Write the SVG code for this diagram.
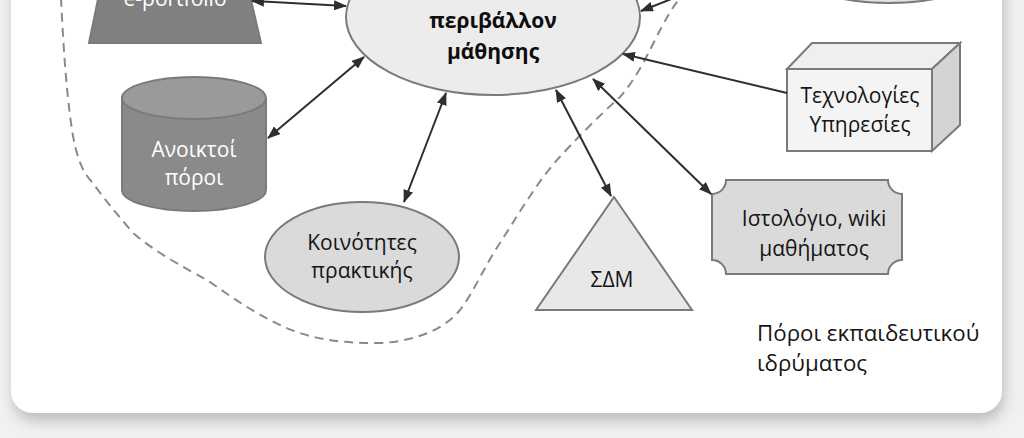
<svg xmlns="http://www.w3.org/2000/svg" width="1024" height="438" viewBox="0 0 1024 438">
<defs>
<filter id="sh" x="-5%" y="-5%" width="110%" height="115%">
<feDropShadow dx="2" dy="8" stdDeviation="7" flood-color="#000" flood-opacity="0.22"/>
</filter>
<marker id="ah" viewBox="0 0 13 10" refX="12" refY="5" markerWidth="13" markerHeight="10" markerUnits="userSpaceOnUse" orient="auto-start-reverse">
<path d="M0,0 L13,5 L0,10 z" fill="#2e2e2e"/>
</marker>
<style>
.nd{stroke:#7a7a7a;stroke-width:2}
.t{font-family:"Open Sans","DejaVu Sans",sans-serif;font-size:21px;fill:#151515;text-anchor:middle}
.w{fill:#ffffff}
.b{font-weight:bold;fill:#0d0d0d}
.c{stroke:#2e2e2e;stroke-width:2;fill:none}
.bd{fill:none;stroke:#8a8a8a;stroke-width:2;stroke-dasharray:9 6}
</style>
</defs>
<rect x="0" y="0" width="1024" height="438" fill="#f1f1f1"/>
<rect x="11" y="-40" width="991" height="453" rx="22" fill="#ffffff" filter="url(#sh)"/>
<path id="boundary" class="bd" d="M61,-2 C63,40 66,90 72,130 C76,155 82,172 92,182 C105,200 118,215 133,233 C155,252 185,268 207,280 C230,296 250,310 270,320 C300,336 330,344 383,343 C420,340 445,328 460,310 C475,290 485,265 500,243 C515,220 535,185 557,160 C575,140 600,115 620,97 C635,80 645,60 655,40 C665,20 672,8 680,-2"/>
<g id="ple">
<ellipse class="nd" cx="493" cy="17" rx="147" ry="78" fill="#ececec"/>
<text class="t b" x="493" y="28">περιβάλλον</text>
<text class="t b" x="493" y="59">μάθησης</text>
</g>
<g id="topright">
<ellipse class="nd" cx="889" cy="-27" rx="90" ry="30" fill="#e2e2e2"/>
</g>
<g id="eportfolio">
<polygon class="nd" points="104,-30 244,-30 261,43 89,43" fill="#808080"/>
<text class="t w" x="175" y="6">e-portfolio</text>
</g>
<g id="anoiktoi">
<path class="nd" d="M122,98 V190 A72,21 0 0,0 266,190 V98 Z" fill="#8a8a8a"/>
<ellipse class="nd" cx="194" cy="98" rx="72" ry="21" fill="#9a9a9a"/>
<text class="t w" x="194" y="157">Ανοικτοί</text>
<text class="t w" x="194" y="185">πόροι</text>
</g>
<g id="koinotites">
<ellipse class="nd" cx="362" cy="257" rx="97" ry="55" fill="#dadada"/>
<text class="t" x="362" y="250">Κοινότητες</text>
<text class="t" x="362" y="278">πρακτικής</text>
</g>
<g id="sdm">
<polygon class="nd" points="614,197 692,310 536,310" fill="#e8e8e8"/>
<text class="t" x="612" y="287">ΣΔΜ</text>
</g>
<g id="istologio">
<path class="nd" d="M726,180 H888 A14,14 0 0,0 902,194 V260 A14,14 0 0,0 888,274 H726 A14,14 0 0,0 712,260 V194 A14,14 0 0,0 726,180 Z" fill="#dadada"/>
<text class="t" x="814" y="226">Ιστολόγιο, wiki</text>
<text class="t" x="814" y="256">μαθήματος</text>
</g>
<g id="technologies">
<polygon class="nd" points="787,69 812,43 960,43 932,69" fill="#efefef"/>
<polygon class="nd" points="932,69 960,43 960,125 932,151" fill="#d4d4d4"/>
<rect class="nd" x="787" y="69" width="145" height="82" fill="#f4f4f4"/>
<text class="t" x="860" y="103">Τεχνολογίες</text>
<text class="t" x="860" y="132">Υπηρεσίες</text>
</g>
<g id="label">
<text class="t" x="757" y="341" style="text-anchor:start;font-size:22.3px">Πόροι εκπαιδευτικού</text>
<text class="t" x="757" y="371" style="text-anchor:start;font-size:22.3px">ιδρύματος</text>
</g>
<g id="connectors">
<line class="c" x1="252" y1="1" x2="346" y2="6" marker-start="url(#ah)" marker-end="url(#ah)"/>
<line class="c" x1="268" y1="138" x2="364" y2="57" marker-start="url(#ah)" marker-end="url(#ah)"/>
<line class="c" x1="404" y1="202" x2="446" y2="93" marker-start="url(#ah)" marker-end="url(#ah)"/>
<line class="c" x1="611" y1="196" x2="556" y2="90" marker-start="url(#ah)" marker-end="url(#ah)"/>
<line class="c" x1="711" y1="194" x2="593" y2="79" marker-start="url(#ah)" marker-end="url(#ah)"/>
<line class="c" x1="787" y1="93" x2="623" y2="54" marker-end="url(#ah)"/>
<line class="c" x1="674" y1="-2" x2="641" y2="11" marker-end="url(#ah)"/>
</g>
</svg>
